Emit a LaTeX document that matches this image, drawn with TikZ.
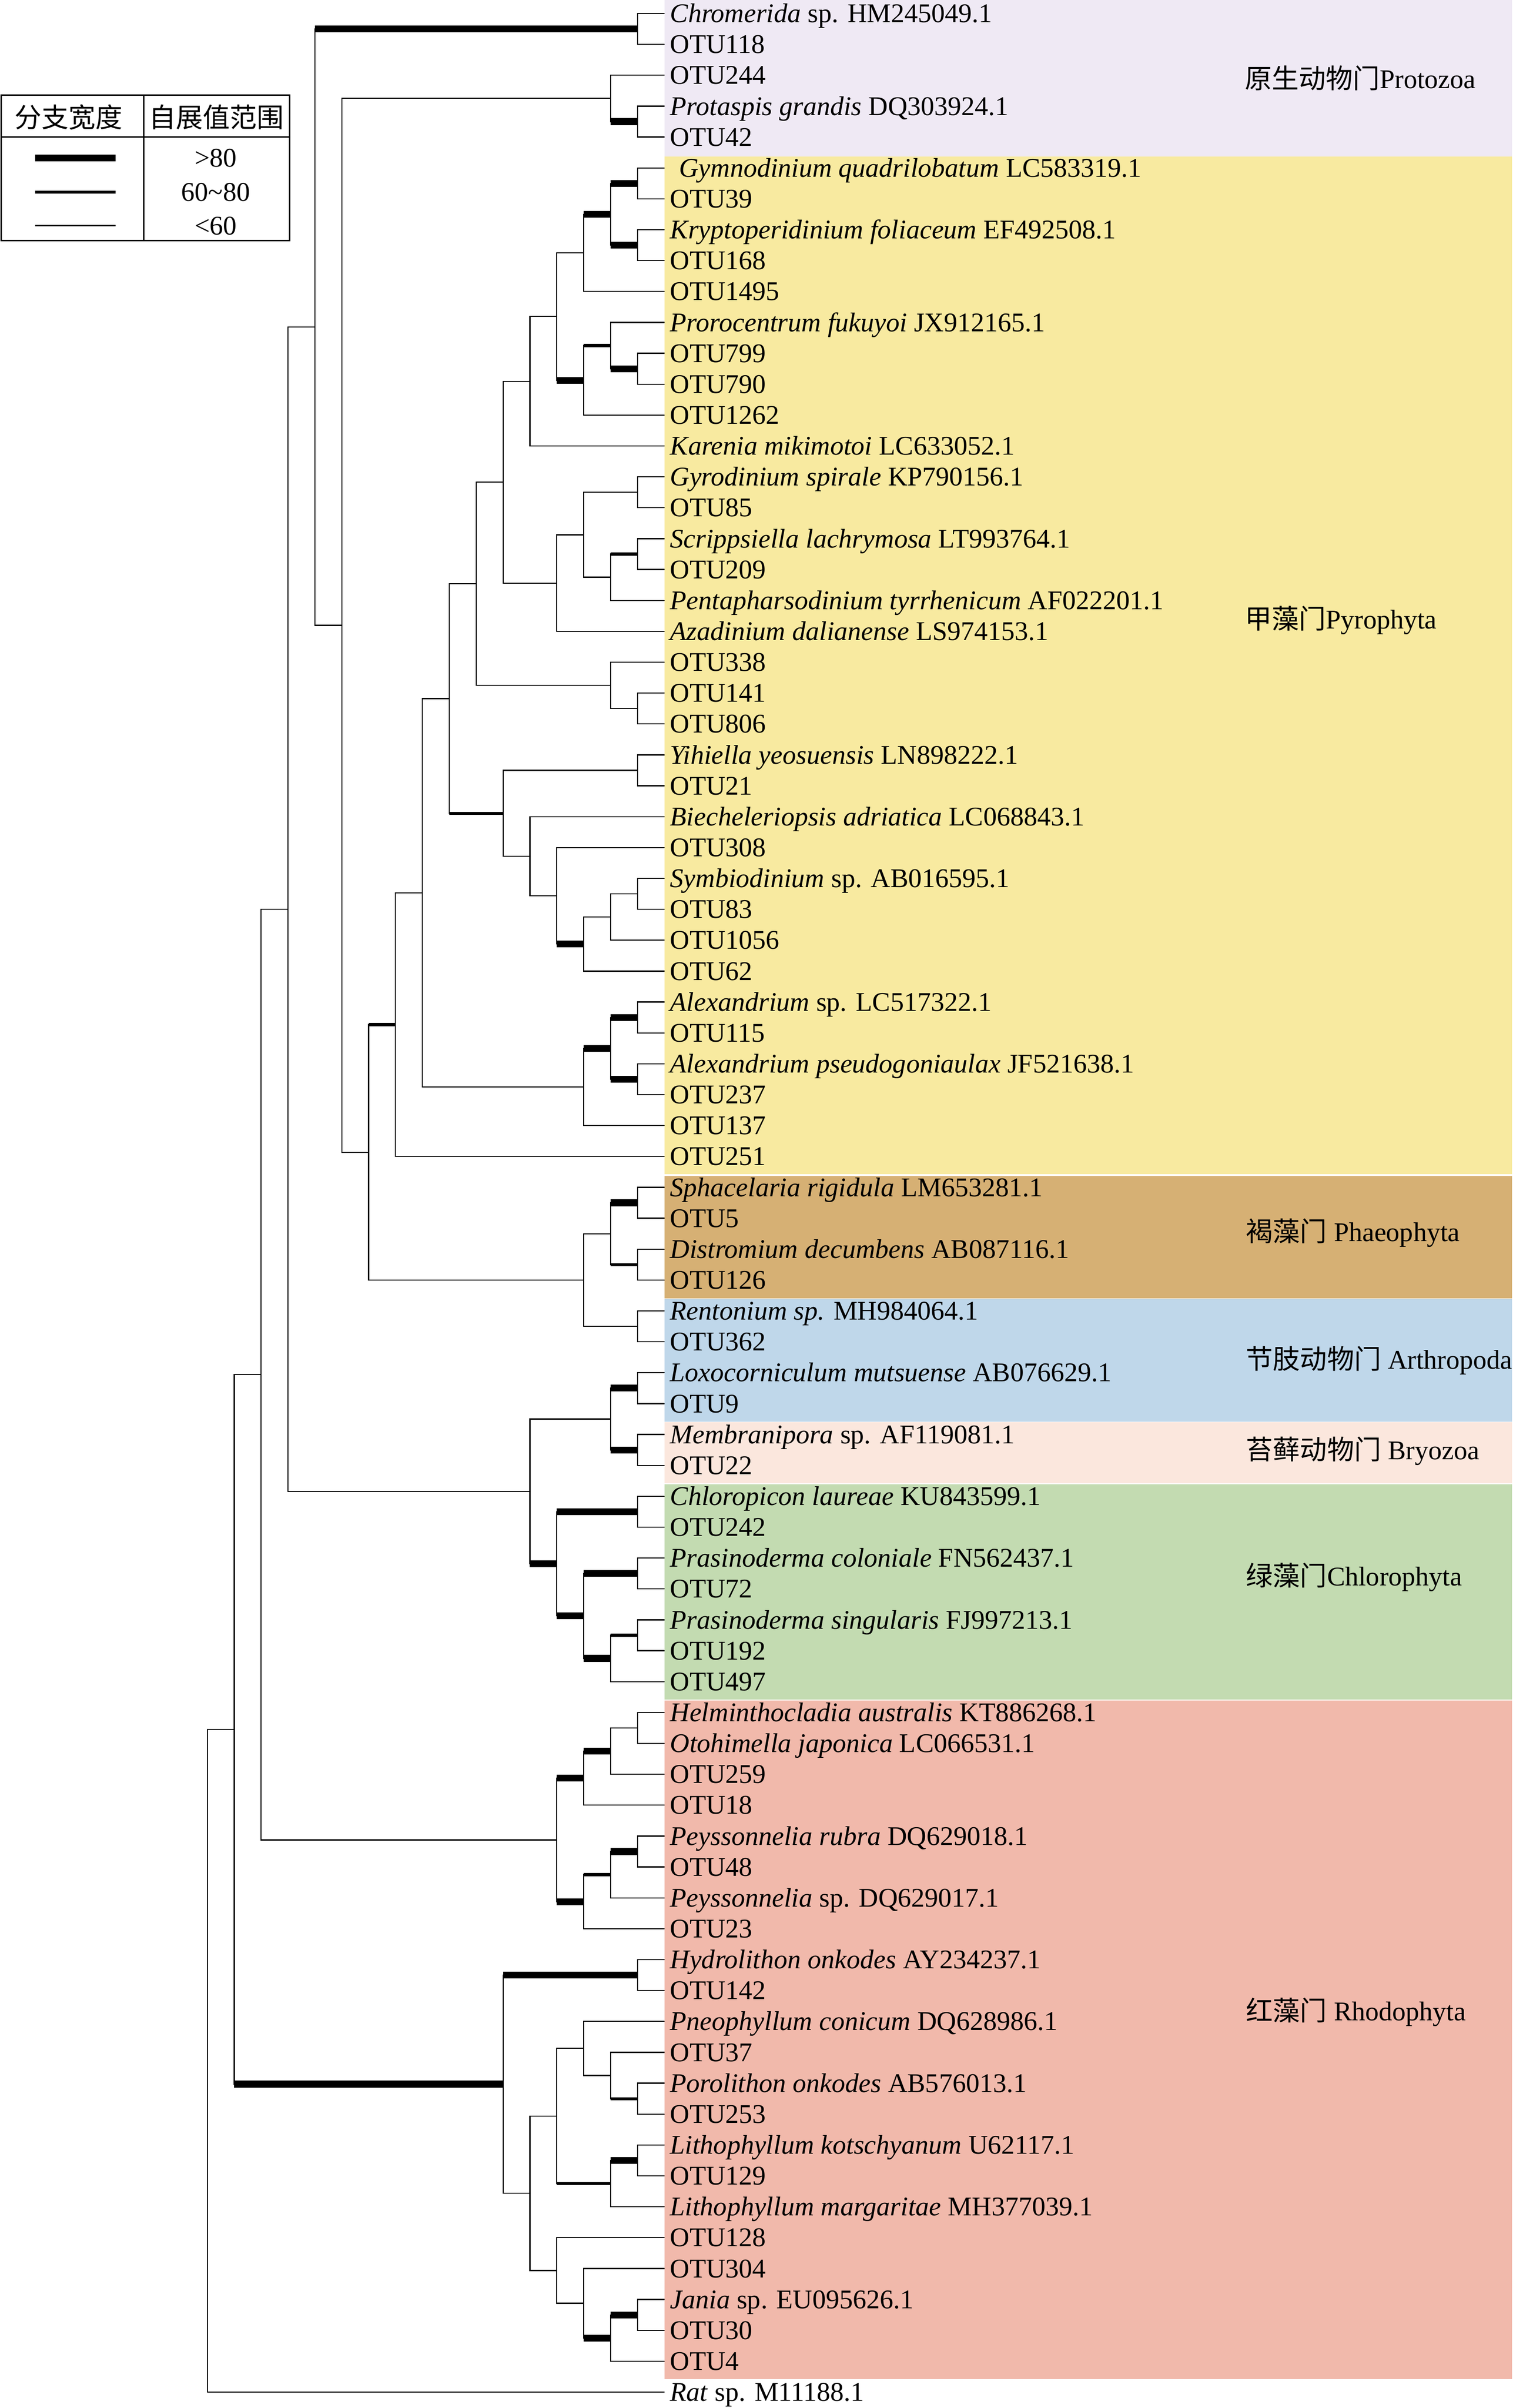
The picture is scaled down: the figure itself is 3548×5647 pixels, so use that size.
\documentclass[tikz,border=0pt]{standalone}
\usepackage{fontspec}
\setmainfont{Liberation Serif}
\newfontfamily\cjk{Noto Sans CJK SC}
\usepackage{tikz}
\definecolor{protoc}{RGB}{239,233,244}
\definecolor{pyroc}{RGB}{248,234,160}
\definecolor{phaeoc}{RGB}{214,176,116}
\definecolor{arthc}{RGB}{191,215,234}
\definecolor{bryoc}{RGB}{251,231,221}
\definecolor{chloc}{RGB}{195,219,177}
\definecolor{rhodoc}{RGB}{241,185,171}
\newcommand{\lbfont}{\fontsize{18}{20}\selectfont}
\newcommand{\branch}[3]{\draw[bslo] (#1) |- (#2); \draw[#3] (#1 |- #2) -- (#2);}

\begin{document}
\begin{tikzpicture}[x=0.01cm,y=-0.01cm]
\tikzstyle{bslo}=[line width=0.025cm];
\tikzstyle{bsmd}=[line width=0.07cm];
\tikzstyle{bshi}=[line width=0.16cm];
\tikzstyle{leaf}=[anchor=west,inner xsep=0.13cm,inner ysep=0pt,text height=0.42cm,text depth=0pt,font=\lbfont];
\tikzstyle{grp}=[anchor=base west,inner sep=0pt,font=\lbfont];
\tikzstyle{lgd}=[anchor=center,inner sep=0pt,text height=0.42cm,text depth=0pt,font=\lbfont];

\useasboundingbox (0,0) rectangle (3548,5647);

% colour bands behind the labels
\fill[protoc] (1558,0) rectangle (3546,366.5);
\fill[pyroc] (1558,366.5) rectangle (3546,2753.5);
\fill[phaeoc] (1558,2757.5) rectangle (3546,3044.5);
\fill[arthc] (1558,3046) rectangle (3546,3334.5);
\fill[bryoc] (1558,3335.5) rectangle (3546,3479);
\fill[chloc] (1558,3481) rectangle (3546,3985.5);
\fill[rhodoc] (1558,3987.5) rectangle (3546,5579);

\node[grp] (protoz) at (2919,207) {{\cjk 原生动物门}Protozoa};
\node[grp] (pyro) at (2919,1474) {{\cjk 甲藻门}Pyrophyta};
\node[grp] (phaeo) at (2922,2911) {{\cjk 褐藻门} Phaeophyta};
\node[grp] (arthro) at (2922,3210) {{\cjk 节肢动物门} Arthropoda};
\node[grp] (bryo) at (2922,3423) {{\cjk 苔藓动物门} Bryozoa};
\node[grp] (chloro) at (2922,3718) {{\cjk 绿藻门}Chlorophyta};
\node[grp] (rhodo) at (2922,4738) {{\cjk 红藻门} Rhodophyta};

% legend
\draw[line width=0.035cm] (3,223) rectangle (679,564);
\draw[line width=0.035cm] (3,321) -- (679,321) (337,223) -- (337,564);
\node[inner sep=0pt,font=\lbfont\cjk] (lgh1) at (161,275) {分支宽度};
\node[inner sep=0pt,font=\lbfont\cjk] (lgh2) at (508,275) {自展值范围};
\draw[bshi] (83,370) -- (271,370);
\draw[bsmd] (83,451) -- (271,451);
\draw[bslo] (83,529) -- (271,529);
\node[lgd] (lgv1) at (506,370) {>80};
\node[lgd] (lgv2) at (506,451) {60\textasciitilde80};
\node[lgd] (lgv3) at (506,529) {<60};

\begin{scope}[shift={(1558,31.6)},x=-0.63cm,y=-0.724cm]
  \foreach \i/\t in {0/{\textit{Chromerida} sp. HM245049.1},1/OTU118,2/OTU244,
      3/{\textit{Protaspis grandis} DQ303924.1},4/OTU42,
      5/{\hspace{0.21cm}\textit{Gymnodinium quadrilobatum} LC583319.1},6/OTU39,
      7/{\textit{Kryptoperidinium foliaceum} EF492508.1},8/OTU168,9/OTU1495,
      10/{\textit{Prorocentrum fukuyoi} JX912165.1},11/OTU799,12/OTU790,13/OTU1262,
      14/{\textit{Karenia mikimotoi} LC633052.1},15/{\textit{Gyrodinium spirale} KP790156.1},16/OTU85,
      17/{\textit{Scrippsiella lachrymosa} LT993764.1},18/OTU209,
      19/{\textit{Pentapharsodinium tyrrhenicum} AF022201.1},
      20/{\textit{Azadinium dalianense} LS974153.1},21/OTU338,22/OTU141,23/OTU806,
      24/{\textit{Yihiella yeosuensis} LN898222.1},25/OTU21,
      26/{\textit{Biecheleriopsis adriatica} LC068843.1},27/OTU308,
      28/{\textit{Symbiodinium} sp. AB016595.1},29/OTU83,30/OTU1056,31/OTU62,
      32/{\textit{Alexandrium} sp. LC517322.1},33/OTU115,
      34/{\textit{Alexandrium pseudogoniaulax} JF521638.1},35/OTU237,36/OTU137,37/OTU251,
      38/{\textit{Sphacelaria rigidula} LM653281.1},39/OTU5,
      40/{\textit{Distromium decumbens} AB087116.1},41/OTU126,
      42/{\textit{Rentonium sp.} MH984064.1},43/OTU362,
      44/{\textit{Loxocorniculum mutsuense} AB076629.1},45/OTU9,
      46/{\textit{Membranipora} sp. AF119081.1},47/OTU22,
      48/{\textit{Chloropicon laureae} KU843599.1},49/OTU242,
      50/{\textit{Prasinoderma coloniale} FN562437.1},51/OTU72,
      52/{\textit{Prasinoderma singularis} FJ997213.1},53/OTU192,54/OTU497,
      55/{\textit{Helminthocladia australis} KT886268.1},
      56/{\textit{Otohimella japonica} LC066531.1},57/OTU259,58/OTU18,
      59/{\textit{Peyssonnelia rubra} DQ629018.1},60/OTU48,
      61/{\textit{Peyssonnelia} sp. DQ629017.1},62/OTU23,
      63/{\textit{Hydrolithon onkodes} AY234237.1},64/OTU142,
      65/{\textit{Pneophyllum conicum} DQ628986.1},66/OTU37,
      67/{\textit{Porolithon onkodes} AB576013.1},68/OTU253,
      69/{\textit{Lithophyllum kotschyanum} U62117.1},70/OTU129,
      71/{\textit{Lithophyllum margaritae} MH377039.1},72/OTU128,73/OTU304,
      74/{\textit{Jania} sp. EU095626.1},75/OTU30,76/OTU4,
      77/{\textit{Rat} sp. M11188.1}}
    \node[leaf] (l\i) at (0,\i) {\t};

  % inner nodes: (depth, row)
  \coordinate (a) at (1,0.5);
  \coordinate (b) at (1,3.5);
  \coordinate (c) at (2,2.75);
  \coordinate (d1) at (1,5.5);
  \coordinate (d2) at (1,7.5);
  \coordinate (d3) at (2,6.5);
  \coordinate (d4) at (3,7.75);
  \coordinate (e1) at (1,11.5);
  \coordinate (e2) at (2,10.75);
  \coordinate (e3) at (3,11.875);
  \coordinate (f1) at (4,9.8125);
  \coordinate (f2) at (5,11.90625);
  \coordinate (g1) at (1,15.5);
  \coordinate (g2) at (1,17.5);
  \coordinate (g3) at (2,18.25);
  \coordinate (g4) at (3,16.875);
  \coordinate (g5) at (4,18.4375);
  \coordinate (h1) at (6,15.171875);
  \coordinate (i1) at (1,22.5);
  \coordinate (i2) at (2,21.75);
  \coordinate (h2) at (7,18.4609);
  \coordinate (j1) at (1,24.5);
  \coordinate (j2) at (1,28.5);
  \coordinate (j3) at (2,29.25);
  \coordinate (j4) at (3,30.125);
  \coordinate (j5) at (4,28.5625);
  \coordinate (j6) at (5,27.28125);
  \coordinate (j7) at (6,25.890625);
  \coordinate (h3) at (8,22.1758);
  \coordinate (k1) at (1,32.5);
  \coordinate (k2) at (1,34.5);
  \coordinate (k3) at (2,33.5);
  \coordinate (k4) at (3,34.75);
  \coordinate (h4) at (9,28.4629);
  \coordinate (h5) at (10,32.7314);
  \coordinate (m1) at (1,38.5);
  \coordinate (m2) at (1,40.5);
  \coordinate (m3) at (2,39.5);
  \coordinate (m4) at (1,42.5);
  \coordinate (m5) at (3,41);
  \coordinate (h6) at (11,36.8657);
  \coordinate (t12) at (12,19.8079);
  \coordinate (t13) at (13,10.1539);
  \coordinate (n1) at (1,44.5);
  \coordinate (n2) at (1,46.5);
  \coordinate (n3) at (2,45.5);
  \coordinate (o1) at (1,48.5);
  \coordinate (o2) at (1,50.5);
  \coordinate (o3) at (1,52.5);
  \coordinate (o4) at (2,53.25);
  \coordinate (o5) at (3,51.875);
  \coordinate (o6) at (4,50.1875);
  \coordinate (n4) at (5,47.84375);
  \coordinate (t14) at (14,28.9988);
  \coordinate (p1) at (1,55.5);
  \coordinate (p2) at (2,56.25);
  \coordinate (p3) at (3,57.125);
  \coordinate (q1) at (1,59.5);
  \coordinate (q2) at (2,60.25);
  \coordinate (q3) at (3,61.125);
  \coordinate (p4) at (4,59.125);
  \coordinate (t15) at (15,44.0619);
  \coordinate (r1) at (1,63.5);
  \coordinate (r2) at (1,67.5);
  \coordinate (r3) at (2,66.75);
  \coordinate (r4) at (3,65.875);
  \coordinate (r5) at (1,69.5);
  \coordinate (r6) at (2,70.25);
  \coordinate (r7) at (4,68.0625);
  \coordinate (s1) at (1,74.5);
  \coordinate (s2) at (2,75.25);
  \coordinate (s3) at (3,74.125);
  \coordinate (s4) at (4,73.0625);
  \coordinate (r8) at (5,70.5625);
  \coordinate (r9) at (6,67.03125);
  \coordinate (t16) at (16,55.5466);
  \coordinate (root) at (17,66.2733);

  % protozoa and backbone
  \foreach \p/\c/\w in {a/l0.west/bslo,a/l1.west/bslo,b/l3.west/bslo,b/l4.west/bslo,
      c/l2.west/bslo,c/b/bshi,t12/c/bslo,t12/h6/bslo,t13/a/bshi,t13/t12/bslo,
      t14/t13/bslo,t14/n4/bslo,t15/t14/bslo,t15/p4/bslo,t16/t15/bslo,t16/r9/bshi,
      root/t16/bslo,root/l77.west/bslo}
    \branch{\p}{\c}{\w};
  % pyrophyta
  \foreach \p/\c/\w in {d1/l5.west/bslo,d1/l6.west/bslo,d2/l7.west/bslo,d2/l8.west/bslo,
      d3/d1/bshi,d3/d2/bshi,d4/d3/bshi,d4/l9.west/bslo,
      e1/l11.west/bslo,e1/l12.west/bslo,e2/l10.west/bslo,e2/e1/bshi,
      e3/e2/bsmd,e3/l13.west/bslo,f1/d4/bslo,f1/e3/bshi,f2/f1/bslo,f2/l14.west/bslo,
      g1/l15.west/bslo,g1/l16.west/bslo,g2/l17.west/bslo,g2/l18.west/bslo,
      g3/g2/bsmd,g3/l19.west/bslo,g4/g1/bslo,g4/g3/bslo,g5/g4/bslo,g5/l20.west/bslo,
      h1/f2/bslo,h1/g5/bslo,i1/l22.west/bslo,i1/l23.west/bslo,i2/l21.west/bslo,i2/i1/bslo,
      h2/h1/bslo,h2/i2/bslo,j1/l24.west/bslo,j1/l25.west/bslo,j2/l28.west/bslo,j2/l29.west/bslo,
      j3/j2/bslo,j3/l30.west/bslo,j4/j3/bslo,j4/l31.west/bslo,j5/l27.west/bslo,j5/j4/bshi,
      j6/l26.west/bslo,j6/j5/bslo,j7/j1/bslo,j7/j6/bslo,h3/h2/bslo,h3/j7/bsmd,
      k1/l32.west/bslo,k1/l33.west/bslo,k2/l34.west/bslo,k2/l35.west/bslo,
      k3/k1/bshi,k3/k2/bshi,k4/k3/bshi,k4/l36.west/bslo,h4/h3/bslo,h4/k4/bslo,
      h5/h4/bslo,h5/l37.west/bslo,h6/h5/bsmd,h6/m5/bslo}
    \branch{\p}{\c}{\w};
  % phaeophyta, arthropoda, bryozoa, chlorophyta
  \foreach \p/\c/\w in {m1/l38.west/bslo,m1/l39.west/bslo,m2/l40.west/bslo,m2/l41.west/bslo,
      m3/m1/bshi,m3/m2/bsmd,m4/l42.west/bslo,m4/l43.west/bslo,m5/m3/bslo,m5/m4/bslo,
      n1/l44.west/bslo,n1/l45.west/bslo,n2/l46.west/bslo,n2/l47.west/bslo,
      n3/n1/bshi,n3/n2/bshi,o1/l48.west/bslo,o1/l49.west/bslo,o2/l50.west/bslo,o2/l51.west/bslo,
      o3/l52.west/bslo,o3/l53.west/bslo,o4/o3/bsmd,o4/l54.west/bslo,o5/o2/bshi,o5/o4/bshi,
      o6/o1/bshi,o6/o5/bshi,n4/n3/bslo,n4/o6/bshi}
    \branch{\p}{\c}{\w};
  % rhodophyta
  \foreach \p/\c/\w in {p1/l55.west/bslo,p1/l56.west/bslo,p2/p1/bslo,p2/l57.west/bslo,
      p3/p2/bshi,p3/l58.west/bslo,q1/l59.west/bslo,q1/l60.west/bslo,q2/q1/bshi,q2/l61.west/bslo,
      q3/q2/bsmd,q3/l62.west/bslo,p4/p3/bshi,p4/q3/bshi,
      r1/l63.west/bslo,r1/l64.west/bslo,r2/l67.west/bslo,r2/l68.west/bslo,
      r3/l66.west/bslo,r3/r2/bsmd,r4/l65.west/bslo,r4/r3/bslo,
      r5/l69.west/bslo,r5/l70.west/bslo,r6/r5/bshi,r6/l71.west/bslo,r7/r4/bslo,r7/r6/bsmd,
      s1/l74.west/bslo,s1/l75.west/bslo,s2/s1/bshi,s2/l76.west/bslo,
      s3/l73.west/bslo,s3/s2/bshi,s4/l72.west/bslo,s4/s3/bslo,
      r8/r7/bslo,r8/s4/bslo,r9/r1/bshi,r9/r8/bslo}
    \branch{\p}{\c}{\w};
\end{scope}

\end{tikzpicture}
\end{document}
